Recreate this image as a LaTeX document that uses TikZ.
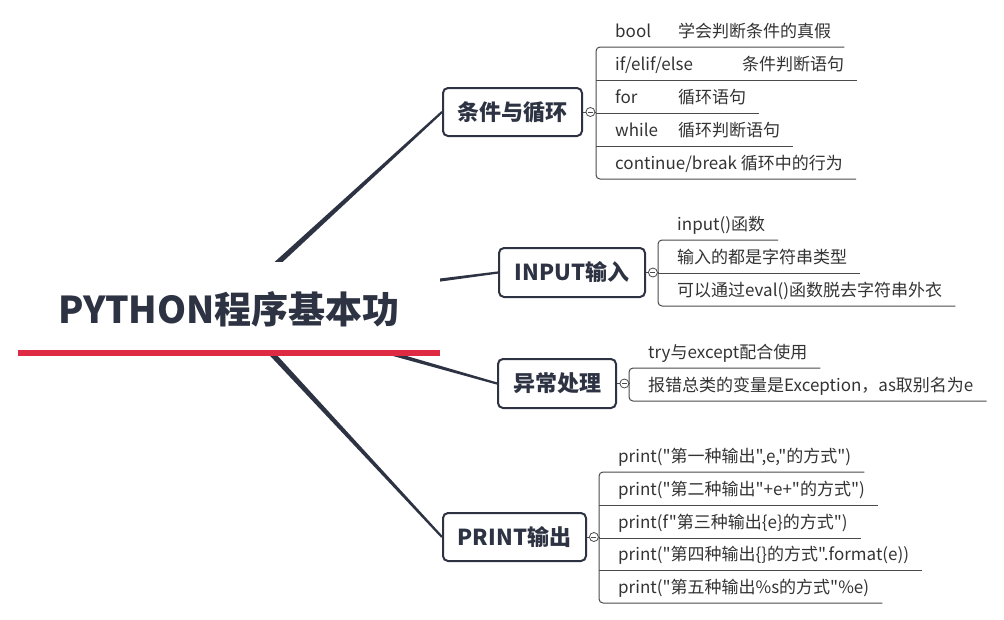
\documentclass[tikz,border=0pt]{standalone}
\usepackage{fontspec}
\setmainfont{Noto Sans CJK SC}[Ligatures=TeXOff]
\usetikzlibrary{calc,positioning,backgrounds}
\definecolor{mapink}{HTML}{2D3342}
\definecolor{mapred}{HTML}{DF2A44}
\definecolor{mapgrey}{HTML}{4A4A4A}
\definecolor{maptext}{HTML}{333333}

% tapered branch from the central topic to a main topic
\newcommand{\branch}[1]{%
  \fill[mapink] ($(root.center)!3.2pt!90:(#1.west)$)
    -- ($(#1.west)!1.1pt!-90:(root.center)$)
    -- ($(#1.west)!1.1pt!90:(root.center)$)
    -- ($(root.center)!3.2pt!-90:(#1.west)$) -- cycle;}

\begin{document}
\begin{tikzpicture}[x=1pt, y=-1pt,
    topic/.style={font=\fontsize{22}{26}\selectfont\bfseries, text=mapink,
      draw=mapink, line width=2pt, rounded corners=5pt, fill=white, inner sep=0pt},
    leaf/.style={font=\fontsize{17}{20}\selectfont, text=maptext,
      anchor=base west, inner sep=0pt},
    twig/.style={draw=mapgrey, line width=1pt},
    toggle/.style={circle, draw=mapgrey, line width=0.8pt, fill=white,
      minimum size=9pt, inner sep=0pt,
      path picture={\draw[mapgrey, line width=0.8pt]
        ([xshift=-2.5pt]path picture bounding box.center)
        -- ([xshift=2.5pt]path picture bounding box.center);}},
  ]
  \useasboundingbox (0,0) rectangle (1004,619);

  % central topic
  \node[font=\fontsize{37}{44}\selectfont\bfseries, text=mapink, fill=white,
    inner sep=0pt, minimum width=422pt, text height=61.5pt, text depth=29.5pt,
    anchor=base] (root) at (229,323.5) {PYTHON程序基本功};
  \draw[mapred, line width=6pt] (root.south west) -- (root.south east);

  % main topics
  \node[topic, minimum width=139pt, minimum height=48pt] (k1) at (512.5,112) {条件与循环};
  \node[topic, minimum width=146pt, minimum height=49pt] (k2) at (572,272.5) {INPUT输入};
  \node[topic, minimum width=118pt, minimum height=49pt] (k3) at (557,383.5) {异常处理};
  \node[topic, minimum width=143pt, minimum height=48pt] (k4) at (514.5,537) {PRINT输出};

  \begin{scope}[on background layer]
    \branch{k1}
    \branch{k2}
    \branch{k3}
    \branch{k4}
  \end{scope}

  % collapse toggles
  \node[toggle, right=2.5pt of k1] (t1) {};
  \node[toggle, right=2pt of k2] (t2) {};
  \node[toggle, right=2.5pt of k3] (t3) {};
  \node[toggle, right=2pt of k4] (t4) {};
  \draw[twig] (k1) -- (t1);
  \draw[twig] (k2) -- (t2);
  \draw[twig] (k3) -- (t3);
  \draw[twig] (k4) -- (t4);

  % 条件与循环
  \node[leaf] (b1) at (615,37) {\makebox[63pt][l]{bool}学会判断条件的真假};
  \node[leaf] (b2) at (615,70) {\makebox[127pt][l]{if/elif/else}条件判断语句};
  \node[leaf] (b3) at (615,103) {\makebox[63pt][l]{for}循环语句};
  \node[leaf] (b4) at (615,136) {\makebox[63pt][l]{while}循环判断语句};
  \node[leaf] (b5) at (615,169) {continue/break 循环中的行为};
  \coordinate (j1) at ($(b1.base west)+(-19,0)$);
  \draw[twig, rounded corners=4pt] ($(b1.base east)+(13,10)$) -- ($(b1.base west)+(-19,10)$)
    -- ($(b5.base west)+(-19,10)$) -- ($(b5.base east)+(13,10)$);
  \draw[twig] ($(b2.base west)+(-19,10)$) -- ($(b2.base east)+(13,10)$);
  \draw[twig] ($(b3.base west)+(-19,10)$) -- ($(b3.base east)+(13,10)$);
  \draw[twig] ($(b4.base west)+(-19,10)$) -- ($(b4.base east)+(13,10)$);
  \draw[twig] (t1) -- (t1 -| j1);

  % INPUT输入
  \node[leaf] (c1) at (677,230) {input()函数};
  \node[leaf] (c2) at (677,263) {输入的都是字符串类型};
  \node[leaf] (c3) at (677,296) {可以通过eval()函数脱去字符串外衣};
  \coordinate (j2) at ($(c1.base west)+(-19,0)$);
  \draw[twig, rounded corners=4pt] ($(c1.base east)+(13,10)$) -- ($(c1.base west)+(-19,10)$)
    -- ($(c3.base west)+(-19,10)$) -- ($(c3.base east)+(13,10)$);
  \draw[twig] ($(c2.base west)+(-19,10)$) -- ($(c2.base east)+(13,10)$);
  \draw[twig] (t2) -- (t2 -| j2);

  % 异常处理
  \node[leaf] (d1) at (648,358) {try与except配合使用};
  \node[leaf] (d2) at (648,391) {报错总类的变量是Exception，as取别名为e};
  \coordinate (j3) at ($(d1.base west)+(-19,0)$);
  \draw[twig, rounded corners=4pt] ($(d1.base east)+(13,10)$) -- ($(d1.base west)+(-19,10)$)
    -- ($(d2.base west)+(-19,10)$) -- ($(d2.base east)+(13,10)$);
  \draw[twig] (t3) -- (t3 -| j3);

  % PRINT输出
  \node[leaf] (e1) at (618,462) {print("第一种输出",e,"的方式")};
  \node[leaf] (e2) at (618,495) {print("第二种输出"+e+"的方式")};
  \node[leaf] (e3) at (618,528) {print(f"第三种输出\{e\}的方式")};
  \node[leaf] (e4) at (618,560) {print("第四种输出\{\}的方式".format(e))};
  \node[leaf] (e5) at (618,593) {print("第五种输出\%s的方式"\%e)};
  \coordinate (j4) at ($(e1.base west)+(-19,0)$);
  \draw[twig, rounded corners=4pt] ($(e1.base east)+(13,10)$) -- ($(e1.base west)+(-19,10)$)
    -- ($(e5.base west)+(-19,10)$) -- ($(e5.base east)+(13,10)$);
  \draw[twig] ($(e2.base west)+(-19,10)$) -- ($(e2.base east)+(13,10)$);
  \draw[twig] ($(e3.base west)+(-19,10)$) -- ($(e3.base east)+(13,10)$);
  \draw[twig] ($(e4.base west)+(-19,10)$) -- ($(e4.base east)+(13,10)$);
  \draw[twig] (t4) -- (t4 -| j4);
\end{tikzpicture}
\end{document}
